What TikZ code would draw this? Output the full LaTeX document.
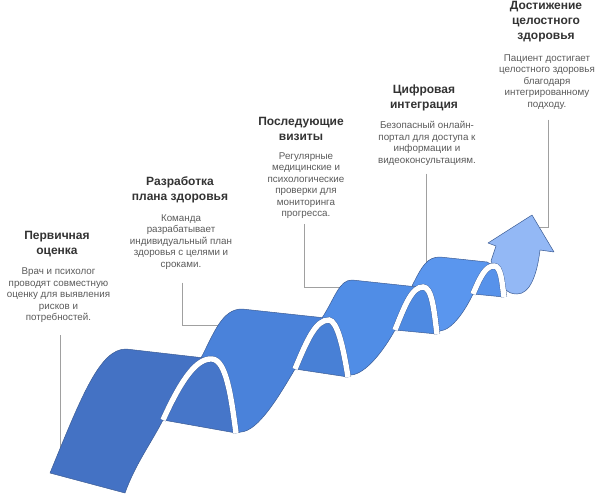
\documentclass[tikz,border=0pt]{standalone}
\usepackage{fontspec}
\usepackage{xcolor}
\setmainfont{Liberation Sans}
\usetikzlibrary{positioning}

\definecolor{rim}{HTML}{3C5C94}
\definecolor{faceA}{HTML}{4472C4}
\definecolor{faceB}{HTML}{4A82DA}
\definecolor{faceC}{HTML}{508DE6}
\definecolor{faceD}{HTML}{5A96EE}
\definecolor{backA}{HTML}{4676C9}
\definecolor{backB}{HTML}{4880D6}
\definecolor{backC}{HTML}{4E8AE2}
\definecolor{backD}{HTML}{5792EA}
\definecolor{tipblue}{HTML}{93B8F5}
\definecolor{headgray}{HTML}{333333}
\definecolor{descgray}{HTML}{5A5A5A}
\definecolor{leadgray}{HTML}{A0A0A0}

\begin{document}
\begin{tikzpicture}[x=1pt, y=-1pt,
    face/.style={draw=rim, line width=0.5pt, line join=round},
    gap/.style={draw=rim, line width=0.35pt, double=white, double distance=5.4pt},
    leader/.style={draw=leadgray, line width=0.8pt},
    head/.style={font=\bfseries\fontsize{12}{15}\selectfont, text=headgray, align=center, inner sep=0pt},
    desc/.style={font=\fontsize{9.8}{11.5}\selectfont, text=descgray, align=center, inner sep=0pt}]
    \useasboundingbox (0,0) rectangle (602,500);

    % texts
    \node[head] (t1) at (57,244.5) {Первичная\\оценка};
    \node[desc] (b1) at (58.5,295.5) {Врач и психолог\\проводят совместную\\оценку для выявления\\рисков и\\потребностей.};
    \node[head] (t2) at (180,189.5) {Разработка\\плана здоровья};
    \node[desc] (b2) at (181,242) {Команда\\разрабатывает\\индивидуальный план\\здоровья с целями и\\сроками.};
    \node[head] (t3) at (301,128.5) {Последующие\\визиты};
    \node[desc] (b3) at (306,185.5) {Регулярные\\медицинские и\\психологические\\проверки для\\мониторинга\\прогресса.};
    \node[head] (t4) at (424,97.5) {Цифровая\\интеграция};
    \node[desc] (b4) at (427,143.5) {Безопасный онлайн-\\портал для доступа к\\информации и\\видеоконсультациям.};
    \node[head] (t5) at (546,22) {Достижение\\целостного\\здоровья};
    \node[desc] (b5) at (547,82) {Пациент достигает\\целостного здоровья\\благодаря\\интегрированному\\подходу.};

    % leader lines
    \coordinate (touch1) at (60,450);
    \coordinate (knee2) at (182,325);
    \coordinate (touch2) at (226,325);
    \coordinate (knee3) at (304,287);
    \coordinate (touch3) at (346,287);
    \coordinate (touch4) at (426,268);
    \coordinate (knee5) at (548,227);
    \coordinate (touch5) at (535,227);
    \draw[leader, shorten <=12pt] (b1.south -| touch1) -- (touch1);
    \draw[leader, shorten <=13pt] (b2.south -| knee2) -- (knee2) -- (touch2);
    \draw[leader, shorten <=5pt] (b3.south -| knee3) -- (knee3) -- (touch3);
    \draw[leader, shorten <=8pt] (b4.south -| touch4) -- (touch4);
    \draw[leader, shorten <=10pt] (b5.south -| knee5) -- (knee5) -- (touch5);

    % ribbon faces, back to front
    \draw[face, fill=tipblue] (505,289) -- (491,261) -- (496,246) -- (488,243) -- (532,215) -- (554,252) -- (540,250)
        .. controls (537,275) and (530,294) .. (517,294) .. controls (511,294) and (508,292) .. (505,289) -- cycle;
    \draw[face, fill=faceD] (437,334) .. controls (434,310) and (432,287) .. (423,287) -- (412,286)
        .. controls (422,266) and (427,257) .. (440,257) -- (487,262) -- (494,266)
        .. controls (486,266) and (481,275) .. (473,294) .. controls (465,311) and (452,330) .. (440,331) -- cycle;
    \draw[face, fill=faceC] (348,377) .. controls (343,345) and (337,321) .. (329,320) -- (322,318)
        .. controls (335,298) and (339,280) .. (352,280) -- (413,286.5) -- (423,287)
        .. controls (412,287) and (405,305) .. (395,330) .. controls (384,350) and (366,374) .. (351,375) -- cycle;
    \draw[face, fill=faceB] (236,433) .. controls (231,395) and (226,360) .. (212,359) -- (201,358)
        .. controls (214,333) and (222,309) .. (242,309) -- (321,317.5) -- (329,320)
        .. controls (316,320) and (308,338) .. (295,369) .. controls (278,398) and (258,431) .. (241,432) -- cycle;
    \draw[face, fill=faceA] (50,473) .. controls (82,395) and (100,349) .. (126,349) -- (201,357.6) -- (212,359)
        .. controls (197,358) and (182,378) .. (163,420) .. controls (150,445) and (135,465) .. (125,493) -- cycle;

    % undersides with their white gaps
    \draw[face, fill=backA] (163,420) .. controls (182,378) and (197,358) .. (212,359) .. controls (226,360) and (231,395) .. (236,433) -- cycle;
    \draw[gap] (163,420) .. controls (182,378) and (197,358) .. (212,359) .. controls (226,360) and (231,395) .. (236,433);
    \draw[face, fill=backB] (295,369) .. controls (308,338) and (316,320) .. (329,320) .. controls (337,321) and (343,345) .. (348,377) -- cycle;
    \draw[gap] (295,369) .. controls (308,338) and (316,320) .. (329,320) .. controls (337,321) and (343,345) .. (348,377);
    \draw[face, fill=backC] (395,330) .. controls (405,305) and (412,287) .. (423,287) .. controls (432,287) and (434,310) .. (437,334) -- cycle;
    \draw[gap] (395,330) .. controls (405,305) and (412,287) .. (423,287) .. controls (432,287) and (434,310) .. (437,334);
    \draw[face, fill=backD] (473,294) .. controls (481,275) and (486,266) .. (494,266) .. controls (501,266) and (502,282) .. (504,297) -- cycle;
    \draw[gap] (473,294) .. controls (481,275) and (486,266) .. (494,266) .. controls (501,266) and (502,282) .. (504,297);
\end{tikzpicture}
\end{document}
